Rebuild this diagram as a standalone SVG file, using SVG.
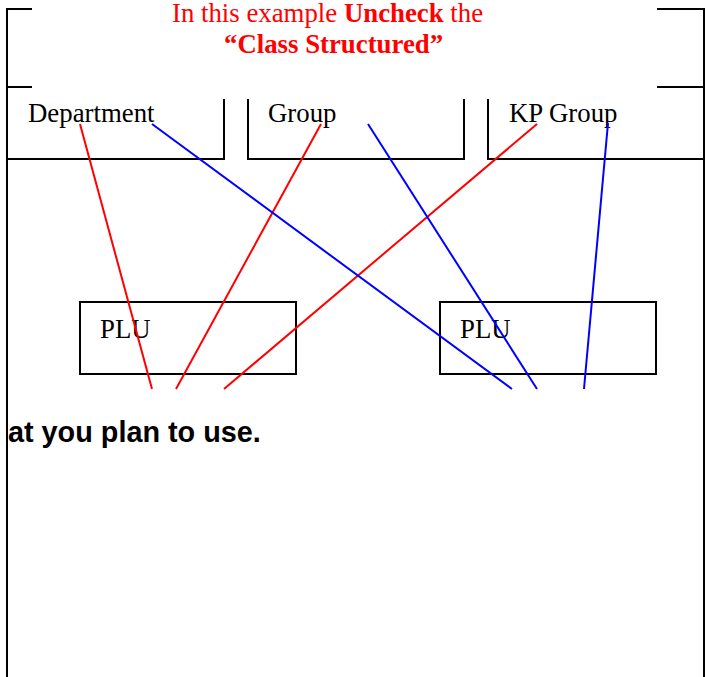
<svg xmlns="http://www.w3.org/2000/svg" width="705" height="677" viewBox="0 0 705 677">
<style>
.frame{fill:none;stroke:#000;stroke-width:2}
.lbl{font-family:"Liberation Serif","Times New Roman",serif;font-size:26.8px;fill:#000}
.title{font-family:"Liberation Serif","Times New Roman",serif;font-size:26.8px;fill:#f00}
.red{stroke:#f00;stroke-width:2;fill:none}
.blue{stroke:#00f;stroke-width:2;fill:none}
.note{font-family:"Liberation Sans",Arial,sans-serif;font-size:28.8px;font-weight:bold;fill:#000}
</style>
<rect width="705" height="677" fill="#fff"/>
<g id="frame">
<path class="frame" d="M32,9 H7 V677 M7,87 H32 M657,9 H704 V677 M657,87 H704"/>
</g>
<g id="title">
<text class="title" x="172" y="22">In this example <tspan font-weight="bold">Uncheck</tspan> the</text>
<text class="title" x="224" y="53" font-weight="bold">“Class Structured”</text>
</g>
<g id="department">
<path class="frame" d="M7,159 H224 V99"/>
<text class="lbl" x="28" y="122">Department</text>
</g>
<g id="group">
<path class="frame" d="M248,99 V159 H464 V99"/>
<text class="lbl" x="268" y="122">Group</text>
</g>
<g id="kpgroup">
<path class="frame" d="M488,99 V159 H704"/>
<text class="lbl" x="509" y="122">KP Group</text>
</g>
<g id="plu1">
<rect class="frame" x="80" y="302" width="216" height="72"/>
<text class="lbl" x="100" y="338">PLU</text>
</g>
<g id="plu2">
<rect class="frame" x="440" y="302" width="216" height="72"/>
<text class="lbl" x="460" y="338">PLU</text>
</g>
<g id="connectors">
<line class="red" x1="80" y1="124" x2="152" y2="389"/>
<line class="red" x1="321" y1="124" x2="176" y2="389"/>
<line class="red" x1="537" y1="124" x2="224" y2="389"/>
<line class="blue" x1="152" y1="124" x2="512" y2="389"/>
<line class="blue" x1="368" y1="124" x2="537" y2="389"/>
<line class="blue" x1="608" y1="123" x2="584" y2="389"/>
</g>
<g id="note">
<text class="note" x="8" y="442">at you plan to use.</text>
</g>
</svg>
